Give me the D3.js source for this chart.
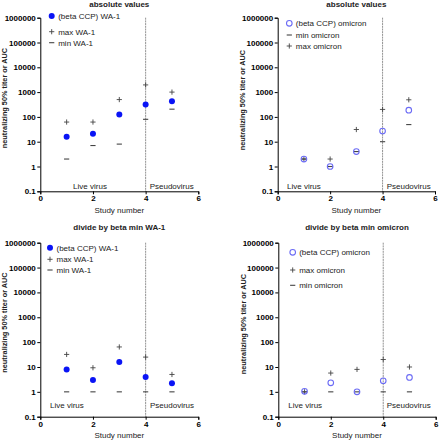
<!DOCTYPE html>
<html><head><meta charset="utf-8">
<script src="https://cdn.jsdelivr.net/npm/d3@7"></script>
<style>body{margin:0;background:#fff}svg{display:block}text{font-family:"Liberation Sans",Arial,sans-serif}</style>
</head><body>
<svg id="c" width="439" height="440"></svg>
<script>
const studies = [1, 2, 3, 4, 5];
const yTicks = [0.1, 1, 10, 100, 1000, 10000, 100000, 1000000];
const xTicks = [0, 2, 4, 6];

// panel 1: absolute values WA-1
const absBetaWA1 = [16, 21, 125, 315, 430];
const absMaxWA1 = [62, 62, 500, 1950, 1000];
const absMinWA1 = [2, 7, 8, 80, 205];
// panel 2: absolute values omicron
const absBetaOmi = [2, 1, 4, 27, 186];
const absMinOmi = [2, 1, 4, 10, 49];
const absMaxOmi = [2, 2, 31, 200, 490];
// panel 3: divide by beta min WA-1
const divBetaWA1 = [8, 3, 16, 4, 2.2];
const divMaxWA1 = [32, 9.3, 64, 25, 5];
const divMinWA1 = [1, 1, 1, 1, 1];
// panel 4: divide by beta min omicron
const divBetaOmi = [1.05, 2.3, 1, 2.8, 3.8];
const divMaxOmi = [1, 5.7, 8, 20, 10];
const divMinOmi = [1, 1, 1, 1, 1];

const panels = [
  {title: "absolute values", titleY: 7, x0: 40.3, x1: 198.3, y0: 17.7, y1: 191.3,
   series: [
     {name: "(beta CCP) WA-1", type: "dot", vals: absBetaWA1},
     {name: "max WA-1", type: "plus", vals: absMaxWA1},
     {name: "min WA-1", type: "minus", vals: absMinWA1}],
   legendX: 51.7, legendY: [16, 31.7, 42.7], live: [90, "middle"], pseudo: [171.7, "middle"], textY: 188.5, yLabX: 7, yLabY: 98},
  {title: "absolute values", titleY: 7, x0: 277.7, x1: 435, y0: 17.7, y1: 191.3,
   series: [
     {name: "(beta CCP) omicron", type: "open", vals: absBetaOmi},
     {name: "min omicron", type: "minus", vals: absMinOmi},
     {name: "max omicron", type: "plus", vals: absMaxOmi}],
   legendX: 289.3, legendY: [23.3, 35, 46], live: [287, "start"], pseudo: [386.7, "start"], textY: 188.5, yLabX: 245, yLabY: 100},
  {title: "divide by beta min WA-1", titleY: 229.5, x0: 40.3, x1: 198.3, y0: 242.7, y1: 416.7,
   series: [
     {name: "(beta CCP) WA-1", type: "dot", vals: divBetaWA1},
     {name: "max WA-1", type: "plus", vals: divMaxWA1},
     {name: "min WA-1", type: "minus", vals: divMinWA1}],
   legendX: 50, legendY: [247.7, 259.3, 270], live: [50, "start"], pseudo: [150, "start"], textY: 408, yLabX: 7.2, yLabY: 322.5},
  {title: "divide by beta min omicron", titleY: 229.5, x0: 278.3, x1: 435.7, y0: 242.7, y1: 416.7,
   series: [
     {name: "(beta CCP) omicron", type: "open", vals: divBetaOmi},
     {name: "max omicron", type: "plus", vals: divMaxOmi},
     {name: "min omicron", type: "minus", vals: divMinOmi}],
   legendX: 292.7, legendY: [252.3, 270, 285.3], live: [288.3, "start"], pseudo: [386.7, "start"], textY: 408, yLabX: 245.5, yLabY: 324}
];

const svg = d3.select("#c");
const DOT = "#0a14f5", OPEN = "#6b6bf5", MARK = "#444", TXT = "#222";

function drawMarker(g, type, cx, cy) {
  if (type === "dot") g.append("circle").attr("cx", cx).attr("cy", cy).attr("r", 3).attr("fill", DOT);
  else if (type === "open") g.append("circle").attr("cx", cx).attr("cy", cy).attr("r", 2.8).attr("fill", "none").attr("stroke", OPEN).attr("stroke-width", 1.1);
  else if (type === "plus") {
    g.append("path").attr("d", `M${cx-2.6},${cy}H${cx+2.6}M${cx},${cy-2.6}V${cy+2.6}`).attr("stroke", MARK).attr("stroke-width", 0.9);
  } else {
    g.append("path").attr("d", `M${cx-2.6},${cy}H${cx+2.6}`).attr("stroke", MARK).attr("stroke-width", 1.1);
  }
}

panels.forEach(p => {
  const x = d3.scaleLinear().domain([0, 6]).range([p.x0, p.x1]);
  const y = d3.scaleLog().domain([0.1, 1000000]).range([p.y1, p.y0]);
  const g = svg.append("g");

  // vertical divider at study 4
  g.append("line").attr("x1", x(4)).attr("x2", x(4)).attr("y1", p.y0).attr("y2", p.y1)
    .attr("stroke", "#777").attr("stroke-width", 0.8).attr("stroke-dasharray", "2,0.7");

  const yAxis = g.append("g").attr("transform", `translate(${p.x0},0)`)
    .call(d3.axisLeft(y).tickValues(yTicks).tickFormat(d => String(d)).tickSize(3).tickPadding(1.5));
  const xAxis = g.append("g").attr("transform", `translate(0,${p.y1})`)
    .call(d3.axisBottom(x).tickValues(xTicks).tickFormat(d3.format("d")).tickSize(3).tickPadding(1.5));
  [yAxis, xAxis].forEach(a => {
    a.select(".domain").attr("stroke", "#000").attr("stroke-width", 1);
    a.selectAll(".tick line").attr("stroke", "#000").attr("stroke-width", 1);
    a.selectAll("text").attr("font-size", 8).attr("font-weight", "bold").attr("fill", "#000")
      .style("font-family", '"Liberation Sans",Arial,sans-serif');
  });

  // title
  g.append("text").attr("x", (p.x0 + p.x1) / 2).attr("y", p.titleY)
    .attr("text-anchor", "middle").attr("font-size", 8).attr("font-weight", "bold").attr("fill", TXT).text(p.title);
  // axis labels
  g.append("text").attr("x", (p.x0 + p.x1) / 2).attr("y", p.y1 + 21.5)
    .attr("text-anchor", "middle").attr("font-size", 8).attr("fill", TXT).text("Study number");
  g.append("text").attr("transform", `translate(${p.yLabX},${p.yLabY}) rotate(-90)`)
    .attr("text-anchor", "middle").attr("font-size", 7.3).attr("font-weight", "bold").attr("fill", TXT)
    .text("neutralizing 50% titer or AUC");

  // region labels
  g.append("text").attr("x", p.live[0]).attr("y", p.textY).attr("text-anchor", p.live[1])
    .attr("font-size", 8).attr("fill", TXT).text("Live virus");
  g.append("text").attr("x", p.pseudo[0]).attr("y", p.textY).attr("text-anchor", p.pseudo[1])
    .attr("font-size", 8).attr("fill", TXT).text("Pseudovirus");

  // marks: min, max, then beta on top
  ["minus", "plus", "dot", "open"].forEach(t => {
    p.series.filter(s => s.type === t).forEach(s => {
      s.vals.forEach((v, i) => drawMarker(g, s.type, x(studies[i]), y(v)));
    });
  });

  // legend
  p.series.forEach((s, i) => {
    drawMarker(g, s.type, p.legendX, p.legendY[i]);
    g.append("text").attr("x", p.legendX + 6.5).attr("y", p.legendY[i] + 2.8)
      .attr("font-size", 8).attr("fill", TXT).text(s.name);
  });
});
</script>
</body></html>
